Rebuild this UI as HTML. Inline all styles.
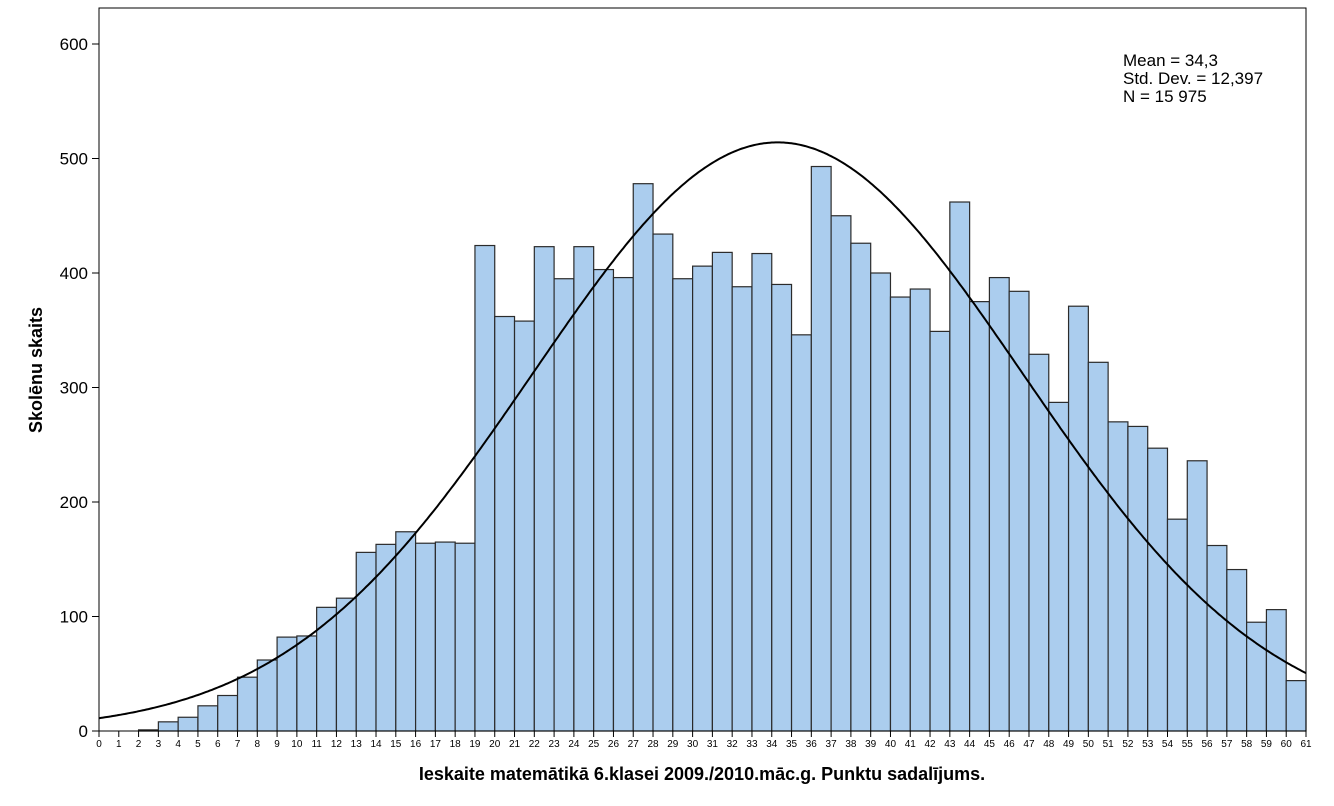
<!DOCTYPE html>
<html><head><meta charset="utf-8"><style>
body{margin:0;background:#fff;font-family:"Liberation Sans",sans-serif}
</style></head><body>
<svg id="chart" width="1334" height="801" xmlns="http://www.w3.org/2000/svg" font-family="Liberation Sans, sans-serif">
<g id="bars"></g>
<g id="axes"></g>
<path id="curve" fill="none" stroke="#000" stroke-width="2"/>
<rect x="99" y="8" width="1207" height="723" fill="none" stroke="#000" stroke-width="1"/>
<text x="1123" y="66" font-size="17">Mean = 34,3</text>
<text x="1123" y="84" font-size="17">Std. Dev. = 12,397</text>
<text x="1123" y="102" font-size="17">N = 15 975</text>
<text transform="translate(42,370) rotate(-90)" text-anchor="middle" font-size="18" font-weight="bold">Skolēnu skaits</text>
<text x="702" y="780" text-anchor="middle" font-size="18" font-weight="bold">Ieskaite matemātikā 6.klasei 2009./2010.māc.g. Punktu sadalījums.</text>
</svg>
<script>
const binStarts=[2,3,4,5,6,7,8,9,10,11,12,13,14,15,16,17,18,19,20,21,22,23,24,25,26,27,28,29,30,31,32,33,34,35,36,37,38,39,40,41,42,43,44,45,46,47,48,49,50,51,52,53,54,55,56,57,58,59,60];
const counts=[1,8,12,22,31,47,62,82,83,108,116,156,163,174,164,165,164,424,362,358,423,395,423,403,396,478,434,395,406,418,388,417,390,346,493,450,426,400,379,386,349,462,375,396,384,329,287,371,322,270,266,247,185,236,162,141,95,106,44];
const yTicks=[0,100,200,300,400,500,600];
const mean=34.3, sd=12.397, n=15975;
const X0=99,X1=1306,Y0=731,Ytop=44;
const xs=v=>X0+(X1-X0)*v/61;
const ys=v=>Y0-(Y0-Ytop)*v/600;
const NS="http://www.w3.org/2000/svg";
const bars=document.getElementById('bars'), axes=document.getElementById('axes');
binStarts.forEach((b,i)=>{
 const r=document.createElementNS(NS,'rect');
 
 
 r.setAttribute('x',xs(b));r.setAttribute('width',xs(b+1)-xs(b));
 r.setAttribute('y',ys(counts[i]));r.setAttribute('height',Y0-ys(counts[i]));
 r.setAttribute('fill','#abcdee');r.setAttribute('stroke','#2b2b2b');r.setAttribute('stroke-width','1.2');
 bars.appendChild(r);
});
yTicks.forEach(t=>{
 const l=document.createElementNS(NS,'line');
 
 
 l.setAttribute('x1',92);l.setAttribute('x2',X0);l.setAttribute('y1',ys(t));l.setAttribute('y2',ys(t));l.setAttribute('stroke','#000');
 axes.appendChild(l);
 const tx=document.createElementNS(NS,'text');
 
 
 tx.setAttribute('x',88);tx.setAttribute('y',ys(t)+6);tx.setAttribute('text-anchor','end');tx.setAttribute('font-size','17');
 tx.textContent=t;axes.appendChild(tx);
});
for(let k=0;k<=61;k++){
 const l=document.createElementNS(NS,'line');
 
 
 l.setAttribute('x1',xs(k));l.setAttribute('x2',xs(k));l.setAttribute('y1',Y0);l.setAttribute('y2',Y0+6);l.setAttribute('stroke','#000');
 axes.appendChild(l);
 const tx=document.createElementNS(NS,'text');
 
 
 tx.setAttribute('x',xs(k));tx.setAttribute('y',747);tx.setAttribute('text-anchor','middle');tx.setAttribute('font-size','10');
 tx.textContent=k;axes.appendChild(tx);
}
let d='';
for(let i=0;i<=610;i++){const v=i/10;const y=n/(sd*Math.sqrt(2*Math.PI))*Math.exp(-((v-mean)**2)/(2*sd*sd));d+=(i?'L':'M')+xs(v).toFixed(1)+' '+ys(y).toFixed(1);}
document.getElementById('curve').setAttribute('d',d);
</script>
</body></html>
